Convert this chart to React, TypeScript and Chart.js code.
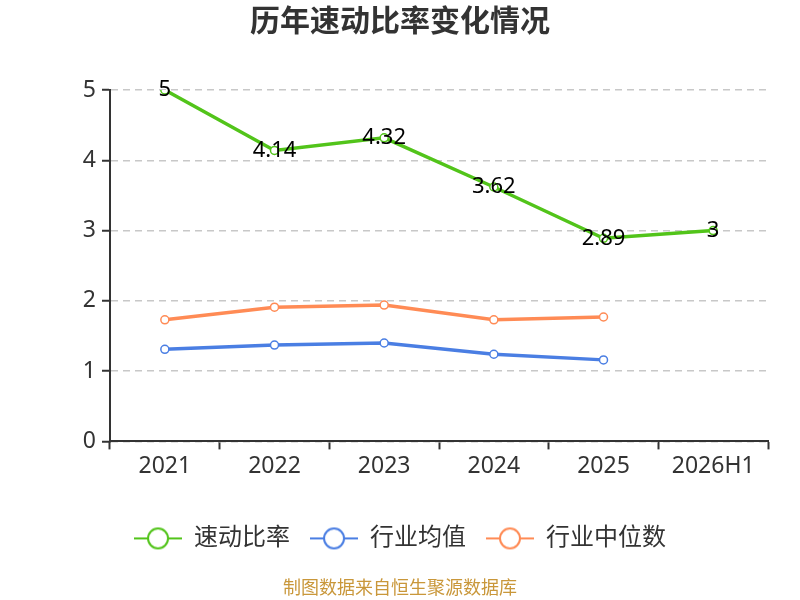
import React, { useEffect, useRef } from 'react';
import { Chart, registerables } from 'chart.js';

Chart.register(...registerables);

const years = ['2021', '2022', '2023', '2024', '2025', '2026H1'];
const quickRatio = [5, 4.14, 4.32, 3.62, 2.89, 3];
const industryAvg = [1.31, 1.37, 1.4, 1.24, 1.16, null];
const industryMedian = [1.73, 1.91, 1.94, 1.73, 1.77, null];
const yTicks = [0, 1, 2, 3, 4, 5];

const FONT = "'Noto Sans', 'Noto Sans CJK SC', sans-serif";
const GREEN = '#52c41a';
const BLUE = '#4a7ee3';
const ORANGE = '#ff8b55';

// legend marker: short line with hollow circle
const makeMarker = (color: string) => {
  const c = document.createElement('canvas');
  c.width = 48;
  c.height = 24;
  const ctx = c.getContext('2d')!;
  ctx.strokeStyle = color;
  ctx.lineWidth = 2;
  ctx.beginPath();
  ctx.moveTo(0, 12);
  ctx.lineTo(48, 12);
  ctx.stroke();
  ctx.beginPath();
  ctx.arc(24, 12, 10, 0, Math.PI * 2);
  ctx.fillStyle = '#fff';
  ctx.fill();
  ctx.stroke();
  return c;
};

const valueLabels = {
  id: 'valueLabels',
  afterDatasetsDraw(chart: Chart) {
    const ctx = chart.ctx;
    const meta = chart.getDatasetMeta(0);
    ctx.save();
    ctx.font = `22px ${FONT}`;
    ctx.fillStyle = '#000';
    ctx.textAlign = 'center';
    ctx.textBaseline = 'middle';
    meta.data.forEach((pt, i) => {
      ctx.fillText(String(quickRatio[i]), pt.x, pt.y);
    });
    ctx.restore();
  },
};

export default function App() {
  const canvasRef = useRef<HTMLCanvasElement>(null);

  useEffect(() => {
    document.body.style.margin = '0';
    if (!canvasRef.current) return;
    const series = [
      { label: '速动比率', data: quickRatio, color: GREEN },
      { label: '行业均值', data: industryAvg, color: BLUE },
      { label: '行业中位数', data: industryMedian, color: ORANGE },
    ];
    const chart = new Chart(canvasRef.current, {
      type: 'line',
      data: {
        labels: years,
        datasets: series.map(s => ({
          label: s.label,
          data: s.data,
          borderColor: s.color,
          backgroundColor: '#fff',
          borderWidth: 3.5,
          pointRadius: 4,
          pointBorderWidth: 1.5,
          pointBackgroundColor: '#fff',
          pointBorderColor: s.color,
        })),
      },
      options: {
        animation: false,
        responsive: true,
        maintainAspectRatio: false,
        layout: { padding: { left: 32, right: 32, top: 0, bottom: 0 } },
        plugins: {
          title: {
            display: true,
            text: '历年速动比率变化情况',
            color: '#333',
            font: { family: FONT, size: 30, weight: 'bold' },
            padding: { top: 4, bottom: 50 },
          },
          subtitle: {
            display: true,
            position: 'bottom',
            text: '制图数据来自恒生聚源数据库',
            color: '#c9973a',
            font: { family: FONT, size: 18 },
            padding: { top: 18, bottom: 0 },
          },
          legend: {
            position: 'bottom',
            labels: {
              usePointStyle: true,
              pointStyleWidth: 48,
              color: '#333',
              font: { family: FONT, size: 24 },
              padding: 20,
              generateLabels: (ch: Chart) =>
                ch.data.datasets.map((ds: any, i: number) => ({
                  text: ds.label,
                  fillStyle: '#fff',
                  strokeStyle: ds.borderColor,
                  fontColor: '#333',
                  lineWidth: 0,
                  pointStyle: makeMarker(ds.borderColor),
                  datasetIndex: i,
                  hidden: false,
                })),
            },
          },
          tooltip: { enabled: false },
        },
        scales: {
          x: {
            offset: true,
            grid: {
              offset: true,
              drawOnChartArea: false,
              drawTicks: true,
              tickLength: 8,
              tickColor: '#333',
              tickWidth: 2,
            },
            border: { color: '#333', width: 2 },
            ticks: { color: '#333', font: { family: FONT, size: 23 }, padding: 3 },
            afterFit: (scale: any) => {
              scale.height = 65;
            },
          },
          y: {
            min: 0,
            max: 5,
            afterBuildTicks: (scale: any) => {
              scale.ticks = yTicks.map(v => ({ value: v }));
            },
            grid: {
              color: '#c8c8c8',
              lineWidth: 1.5,
              drawTicks: true,
              tickLength: 8,
              tickColor: '#333',
              tickWidth: 2,
            },
            border: { color: '#333', width: 2, dash: [7, 5] },
            ticks: { color: '#333', font: { family: FONT, size: 23 }, padding: 6 },
            afterFit: (scale: any) => {
              scale.width = 78;
            },
          },
        },
      },
      plugins: [valueLabels],
    });
    return () => chart.destroy();
  }, []);

  return (
    <div style={{ position: 'relative', width: 800, height: 600 }}>
      <canvas ref={canvasRef} />
    </div>
  );
}
